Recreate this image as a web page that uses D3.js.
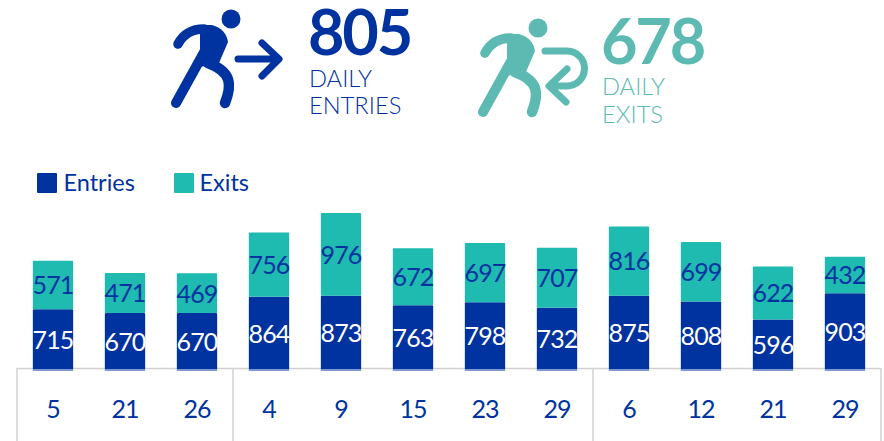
<!DOCTYPE html>
<html>
<head>
<meta charset="utf-8" />
<title>Daily entries and exits</title>
<style>
 body, html { margin: 0; padding: 0; background: #fff; overflow: hidden; }
 svg { display: block; }
 text { font-family: Lato, sans-serif; }
</style>
<script src="https://cdnjs.cloudflare.com/ajax/libs/d3/7.9.0/d3.min.js"></script>
</head>
<body>
<svg width="884" height="441"></svg>
<script>
 const categories = ["5", "21", "26", "4", "9", "15", "23", "29", "6", "12", "21", "29"];
 const entries = [715, 670, 670, 864, 873, 763, 798, 732, 875, 808, 596, 903];
 const exits = [571, 471, 469, 756, 976, 672, 697, 707, 816, 699, 622, 432];
 const groupSizes = [3, 5, 4];
 const seriesNames = ["Entries", "Exits"];
 const dailyEntries = 805;
 const dailyExits = 678;

 const blue = "#0033a0";
 const teal = "#1fbab0";
 const paleTeal = "#5cbab2";
 const labelFont = 25;

 const svg = d3.select("svg");
 const rows = categories.map((c, i) => ({ i: i, Entries: entries[i], Exits: exits[i] }));

 const x = d3.scaleBand().domain(d3.range(categories.length)).range([17, 881]).paddingInner(0.44).paddingOuter(0.22);
 const y = d3.scaleLinear().domain([0, d3.max(rows, d => d.Entries + d.Exits)]).range([370, 213]);
 const color = d3.scaleOrdinal().domain(seriesNames).range([blue, teal]);

 // table under the bars
 const frame = svg.append("g").attr("stroke", "#d2d2d2").attr("stroke-width", 1.5);
 frame.append("line").attr("x1", 17).attr("x2", 881).attr("y1", 368.5).attr("y2", 368.5);
 let seen = 0;
 const edges = [x.range()[0]];
 groupSizes.forEach(n => {
  seen += n;
  edges.push(seen === categories.length ? x.range()[1] : x(seen) - x.step() * x.paddingInner() / 2);
 });
 frame.selectAll(".edge").data(edges).enter().append("line")
  .attr("class", "edge")
  .attr("x1", d => d).attr("x2", d => d)
  .attr("y1", 368).attr("y2", 441);

 const stacked = d3.stack().keys(seriesNames)(rows);
 const layer = svg.append("g").selectAll("g").data(stacked).enter().append("g")
  .attr("fill", d => color(d.key));

 layer.selectAll("rect").data(d => d).enter().append("rect")
  .attr("x", d => x(d.data.i))
  .attr("width", x.bandwidth())
  .attr("y", d => y(d[1]))
  .attr("height", d => y(d[0]) - y(d[1]))
  .attr("rx", 1);

 // light strip at the foot of each bar
 svg.append("g").selectAll("rect").data(rows).enter().append("rect")
  .attr("x", d => x(d.i)).attr("width", x.bandwidth())
  .attr("y", y(0) - 1).attr("height", 2)
  .attr("fill", "#7f97cf");

 layer.selectAll("text").data(d => d).enter().append("text")
  .attr("x", d => x(d.data.i) + x.bandwidth() / 2)
  .attr("y", d => (y(d[0]) + y(d[1])) / 2 + 3)
  .attr("text-anchor", "middle")
  .attr("dominant-baseline", "middle")
  .attr("font-size", labelFont)
  .attr("letter-spacing", -0.9)
  .attr("fill", function(d) { return d3.select(this.parentNode).datum().key === "Entries" ? "#fff" : blue; })
  .text(d => d[1] - d[0]);

 // category labels
 const axis = d3.axisBottom(x).tickSize(0).tickFormat(i => categories[i]);
 const axisG = svg.append("g").attr("transform", "translate(0,397)").call(axis);
 axisG.select(".domain").remove();
 axisG.selectAll("text")
  .attr("font-family", "Lato, sans-serif")
  .attr("font-size", labelFont)
  .attr("letter-spacing", -0.9)
  .attr("fill", blue);

 // legend
 const legendX = d3.scaleOrdinal().domain(seriesNames).range([37, 174]);
 const legend = svg.append("g").selectAll("g").data(seriesNames).enter().append("g")
  .attr("transform", d => `translate(${legendX(d)},173)`);
 legend.append("rect").attr("width", 20).attr("height", 20).attr("rx", 1).attr("fill", d => color(d));
 legend.append("text").attr("x", d => d === "Entries" ? 26.5 : 25.5).attr("y", 18)
  .attr("font-size", 23.5).attr("fill", blue).text(d => d);

 // walking figure, drawn once and reused for both headline blocks
 function figure(g, c) {
  g.append("circle").attr("cx", 231).attr("cy", 19).attr("r", 9.5).attr("fill", c);
  g.append("path").attr("fill", c)
   .attr("d", "M200,25 L212,25 Q226,29 228,42 L219,63 L200,67 Z");
  g.append("path").attr("fill", "none").attr("stroke", c).attr("stroke-linecap", "round").attr("stroke-width", 9.5)
   .attr("d", "M178,44 Q186,29 204,29");
  g.append("path").attr("fill", "none").attr("stroke", c).attr("stroke-linecap", "round").attr("stroke-width", 10)
   .attr("d", "M176,103 L207,47");
  g.append("path").attr("fill", "none").attr("stroke", c).attr("stroke-linecap", "round").attr("stroke-width", 10.5)
   .attr("d", "M225,103 C232,85 232,72 208,63");
 }

 const left = svg.append("g");
 figure(left, blue);
 left.append("path").attr("fill", "none").attr("stroke", blue).attr("stroke-width", 7)
  .attr("stroke-linecap", "round").attr("stroke-linejoin", "round")
  .attr("d", "M238,59 H278 M262,43 L279,59 L262,76");

 const right = svg.append("g");
 figure(right.append("g").attr("transform", "translate(307,9)"), paleTeal);
 right.append("path").attr("fill", "none").attr("stroke", paleTeal).attr("stroke-width", 7)
  .attr("stroke-linecap", "round").attr("stroke-linejoin", "round")
  .attr("d", "M545,51 H567 A17.5,17.5 0 0 1 567,86 H550 M567,69 L549,86 L566,102");

 // headline numbers
 function headline(px, base, value, words, c, lineY) {
  svg.append("text").attr("x", px).attr("y", base).attr("font-size", 63).attr("font-weight", 700)
   .attr("letter-spacing", -2.2).attr("fill", c).text(value);
  words.forEach((w, i) => {
   svg.append("text").attr("x", px + 1).attr("y", lineY[i]).attr("font-size", 23.7).attr("font-weight", 300)
    .attr("fill", c).text(w);
  });
 }
 headline(308, 55, dailyEntries, ["DAILY", "ENTRIES"], blue, [87, 114]);
 headline(601, 64, dailyExits, ["DAILY", "EXITS"], paleTeal, [95, 123]);
</script>
</body>
</html>
